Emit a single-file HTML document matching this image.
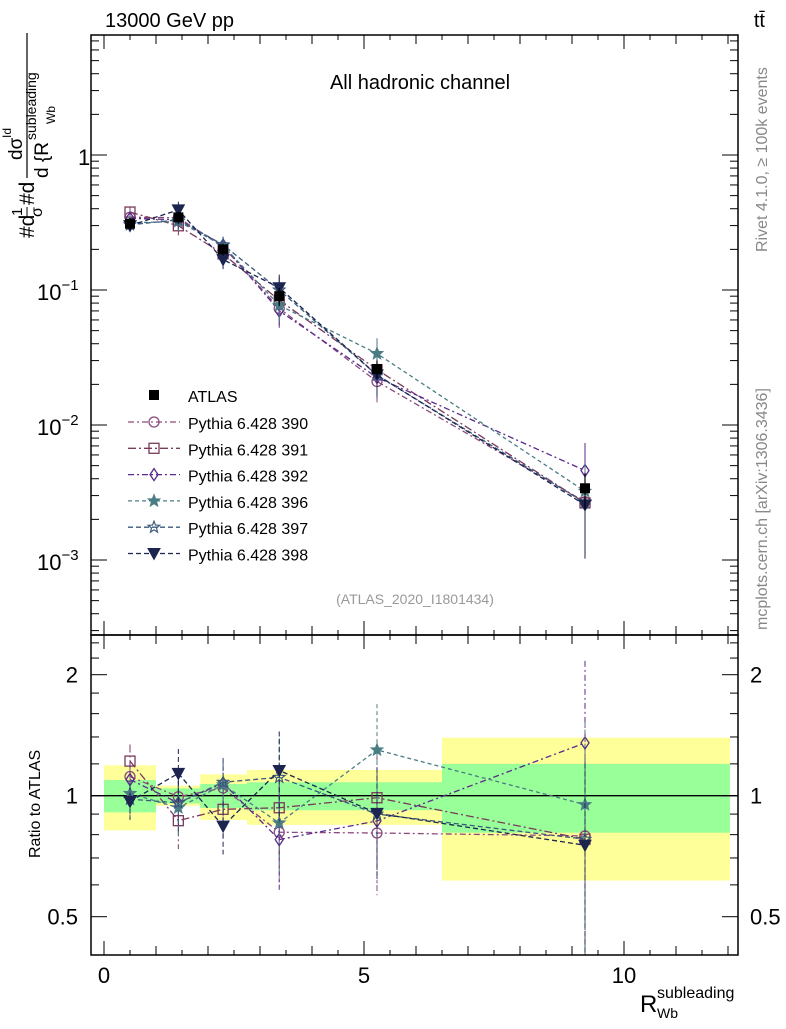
<!DOCTYPE html>
<html><head><meta charset="utf-8"><style>
body{margin:0;background:#fff;width:786px;height:1024px;overflow:hidden}
svg{font-family:"Liberation Sans",sans-serif}
</style></head><body>
<svg id="c" width="786" height="1024" viewBox="0 0 786 1024"></svg>
<script>
const xPoints=[0.5,1.43,2.29,3.37,5.25,9.25];
const atlas=[0.31,0.345,0.2,0.09,0.026,0.0034];
const atlasRelErr=[0.1,0.1,0.1,0.15,0.15,0.3];
const mcNames=["Pythia 6.428 390","Pythia 6.428 391","Pythia 6.428 392","Pythia 6.428 396","Pythia 6.428 397","Pythia 6.428 398"];
const mc390=[0.346,0.343,0.209,0.073,0.021,0.0027];
const mc391=[0.378,0.299,0.185,0.084,0.0257,0.00265];
const mc392=[0.340,0.331,0.215,0.070,0.0225,0.0046];
const mc396=[0.314,0.322,0.213,0.077,0.0338,0.00323];
const mc397=[0.304,0.331,0.216,0.100,0.0234,0.00265];
const mc398=[0.300,0.392,0.168,0.104,0.0235,0.00256];
const mcRelErr=[0.1,0.15,0.15,0.25,0.3,0.6];
const binEdges=[0,1,1.85,2.75,4,6.5,12.04];
const yellowHi=[1.19,1.059,1.13,1.159,1.159,1.394];
const yellowLo=[0.82,0.944,0.87,0.846,0.846,0.615];
const greenHi=[1.094,1.043,1.069,1.08,1.08,1.2];
const greenLo=[0.909,0.957,0.932,0.92,0.92,0.809];
const xTicks=[0,5,10];
const ratioTicks=[0.5,1,2];
const mainTicks=[{v:1,t:"1"},{v:0.1,t:"10",e:"−1"},{v:0.01,t:"10",e:"−2"},{v:0.001,t:"10",e:"−3"}];

const mcs=[mc390,mc391,mc392,mc396,mc397,mc398];
const colors=["#8a4a7e","#7a3a5c","#5a2a8c","#4a7c84","#3a5a7c","#1c2450"];
const dashes=["6,3,2,3","8,3,2,3","6,3,2,3","4,3","5,3","5,3"];
const markers=["circle","square","diamond","star","ostar","tri"];

const L=91,R=738,T=35,B=635,RB=955;
const sx=v=>104+52*v;
const sy=v=>155-135*Math.log10(v);
const ry=r=>795.7-121*Math.log2(r);
const svg=document.getElementById('c');
const NS="http://www.w3.org/2000/svg";
function el(tag,attrs,parent,name){const e=document.createElementNS(NS,tag);for(const k in attrs)e.setAttribute(k,attrs[k]);


(parent||svg).appendChild(e);return e;}
function txt(x,y,s,size,attrs,name,parent){const t=el('text',Object.assign({x:x,y:y,'font-size':size},attrs||{}),parent,name);t.textContent=s;return t;}

for(let i=0;i<binEdges.length-1;i++){
 el('rect',{x:sx(binEdges[i]),y:ry(yellowHi[i]),width:sx(binEdges[i+1])-sx(binEdges[i]),height:ry(yellowLo[i])-ry(yellowHi[i]),fill:"#ffff99"},null,'yellow-band');
 el('rect',{x:sx(binEdges[i]),y:ry(greenHi[i]),width:sx(binEdges[i+1])-sx(binEdges[i]),height:ry(greenLo[i])-ry(greenHi[i]),fill:"#99ff99"},null,'green-band');
}
el('line',{x1:L,x2:R,y1:ry(1),y2:ry(1),stroke:"#000","stroke-width":1.3},null,'ratio-unity-line');

function marker(type,x,y,c,g,name){
 const s=5;
 if(type=="circle")el('circle',{cx:x,cy:y,r:s,fill:"none",stroke:c,"stroke-width":1.3},g,name);
 else if(type=="square")el('rect',{x:x-s,y:y-s,width:2*s,height:2*s,fill:"none",stroke:c,"stroke-width":1.3},g,name);
 else if(type=="diamond")el('polygon',{points:`${x},${y-6} ${x+4},${y} ${x},${y+6} ${x-4},${y}`,fill:"none",stroke:c,"stroke-width":1.3},g,name);
 else if(type=="star"||type=="ostar"){let p=[];for(let k=0;k<10;k++){const a=-Math.PI/2+k*Math.PI/5,rr=k%2?2.6:6;p.push((x+rr*Math.cos(a)).toFixed(1)+","+(y+rr*Math.sin(a)).toFixed(1));}
  el('polygon',{points:p.join(" "),fill:type=="star"?c:"none",stroke:c,"stroke-width":1.2},g,name);}
 else if(type=="tri")el('polygon',{points:`${x-6},${y-5} ${x+6},${y-5} ${x},${y+6}`,fill:c,stroke:c},g,name);
 else if(type=="sq")el('rect',{x:x-5,y:y-5,width:10,height:10,fill:c},g,name);
}

mcs.forEach((m,j)=>{
 const g=el('g',{},null,'series-'+mcNames[j].split(' ')[2]);
 const pm=m.map((v,i)=>sx(xPoints[i])+","+sy(v)).join(" ");
 el('polyline',{points:pm,fill:"none",stroke:colors[j],"stroke-width":1.3,"stroke-dasharray":dashes[j]},g,'main-line');
 const pr=m.map((v,i)=>sx(xPoints[i])+","+ry(v/atlas[i])).join(" ");
 el('polyline',{points:pr,fill:"none",stroke:colors[j],"stroke-width":1.3,"stroke-dasharray":dashes[j]},g,'ratio-line');
 m.forEach((v,i)=>{
  const x=sx(xPoints[i]),e=mcRelErr[i];
  el('line',{x1:x,x2:x,y1:sy(v*(1+e)),y2:sy(Math.max(v*(1-e),1e-4)),stroke:colors[j],"stroke-width":1},g,'main-errorbar');
  const r=v/atlas[i];
  el('line',{x1:x,x2:x,y1:Math.max(ry(r*(1+e)),T),y2:Math.min(ry(Math.max(r*(1-e),0.01)),RB),stroke:colors[j],"stroke-width":1,"stroke-dasharray":dashes[j]},g,'ratio-errorbar');
  marker(markers[j],x,sy(v),colors[j],g,'main-marker');
  marker(markers[j],x,ry(r),colors[j],g,'ratio-marker');
 });
});
atlas.forEach((v,i)=>{
 const x=sx(xPoints[i]);
 el('line',{x1:x,x2:x,y1:sy(v*(1+atlasRelErr[i])),y2:sy(v*(1-atlasRelErr[i])),stroke:"#000","stroke-width":1.2},null,'atlas-errorbar');
 marker("sq",x,sy(v),"#000",null,'atlas-point');
});

el('rect',{x:L,y:T,width:R-L,height:B-T,fill:"none",stroke:"#000","stroke-width":1.5},null,'main-frame');
el('rect',{x:L,y:B,width:R-L,height:RB-B,fill:"none",stroke:"#000","stroke-width":1.5},null,'ratio-frame');
for(let v=0;v<=12;v+=0.5){const x=sx(v);const big=v%5==0?14:(v%1==0?9:5);
 [[B,-1],[RB,-1],[T,1],[B,1]].forEach(([y,d])=>el('line',{x1:x,x2:x,y1:y,y2:y+d*big,stroke:"#000"},null,'x-tick'));}
xTicks.forEach(v=>txt(sx(v),983,String(v),22,{"text-anchor":"middle"},'x-tick-label'));
for(let d=-4;d<=0;d++)for(let k=1;k<10;k++){const v=k*Math.pow(10,d);const y=sy(v);if(y<T||y>B)continue;const len=k==1?16:8;
 el('line',{x1:L,x2:L+len,y1:y,y2:y,stroke:"#000"},null,'y-tick');el('line',{x1:R,x2:R-len,y1:y,y2:y,stroke:"#000"},null,'y-tick');}
mainTicks.forEach(t=>{const g=txt(t.e?37:78,sy(t.v)+10,t.t,22,{"text-anchor":"start"},'y-tick-label');
 if(t.e){const ts=el('tspan',{dy:-10,'font-size':15},g,'exponent');ts.textContent=t.e;}});
[0.5,0.6,0.7,0.8,0.9,1,1.2,1.4,1.6,1.8,2,2.2,2.4].forEach(r=>{const y=ry(r);const len=ratioTicks.includes(r)?16:8;
 el('line',{x1:L,x2:L+len,y1:y,y2:y,stroke:"#000"},null,'ratio-tick');el('line',{x1:R,x2:R-len,y1:y,y2:y,stroke:"#000"},null,'ratio-tick');});
ratioTicks.forEach(r=>{txt(78,ry(r)+8,String(r),22,{"text-anchor":"end"},'ratio-tick-label');txt(750,ry(r)+8,String(r),22,{},'ratio-tick-label-right');});

txt(105,27,"13000 GeV pp",20,{},'energy-label');
txt(765,27,"tt̄",20,{"text-anchor":"end"},'process-label');
txt(420,89,"All hadronic channel",20,{"text-anchor":"middle"},'plot-title');
txt(415,604,"(ATLAS_2020_I1801434)",14,{"text-anchor":"middle",fill:"#999"},'analysis-id');
txt(0,0,"Rivet 4.1.0, ≥ 100k events",16,{fill:"#888",transform:"translate(767,252) rotate(-90)"},'rivet-label');
txt(0,0,"mcplots.cern.ch [arXiv:1306.3436]",16,{fill:"#888",transform:"translate(767,630) rotate(-90)"},'mcplots-label');
txt(0,0,"Ratio to ATLAS",16,{transform:"translate(40,858) rotate(-90)"},'ratio-axis-title');

// y-axis title (rotated fraction)
const yt=el('g',{transform:"translate(0,238) rotate(-90)"},null,'y-axis-title');
txt(0,34,"#d",21,{},'y-title-d1',yt);
txt(22,22,"1",15,{},'y-title-one',yt);
el('line',{x1:21,x2:31,y1:27,y2:27,stroke:"#000","stroke-width":1},yt,'y-title-bar1');
txt(21,42,"σ",16,{},'y-title-sigma',yt);
txt(33,34,"#d",21,{},'y-title-d2',yt);
txt(78,22,"dσ",19,{},'y-title-dsigma',yt);
txt(100,11,"Id",12,{},'y-title-id',yt);
el('line',{x1:60,x2:205,y1:27,y2:27,stroke:"#000","stroke-width":1.2},yt,'y-title-bar2');
txt(60,48,"d {R",19,{},'y-title-den',yt);
txt(98,36,"subleading",14,{},'y-title-sup',yt);
txt(114,55,"Wb",12,{},'y-title-sub',yt);

txt(640,1012,"R",24,{},'x-axis-title');
txt(657,998,"subleading",16,{},'x-axis-title-sup');
txt(657,1018,"Wb",14,{},'x-axis-title-sub');

const lg=el('g',{},null,'legend');
marker("sq",154,395,"#000",lg,'legend-atlas-marker');
txt(188,402,"ATLAS",16,{},'legend-atlas-label');
mcNames.forEach((n,j)=>{const y=422+j*26.3;
 el('line',{x1:128,x2:180,y1:y,y2:y,stroke:colors[j],"stroke-width":1.3,"stroke-dasharray":dashes[j]},lg,'legend-line');
 marker(markers[j],154,y,colors[j],lg,'legend-marker');
 txt(188,y+7,n,16,{},'legend-label');});
</script>
</body></html>
